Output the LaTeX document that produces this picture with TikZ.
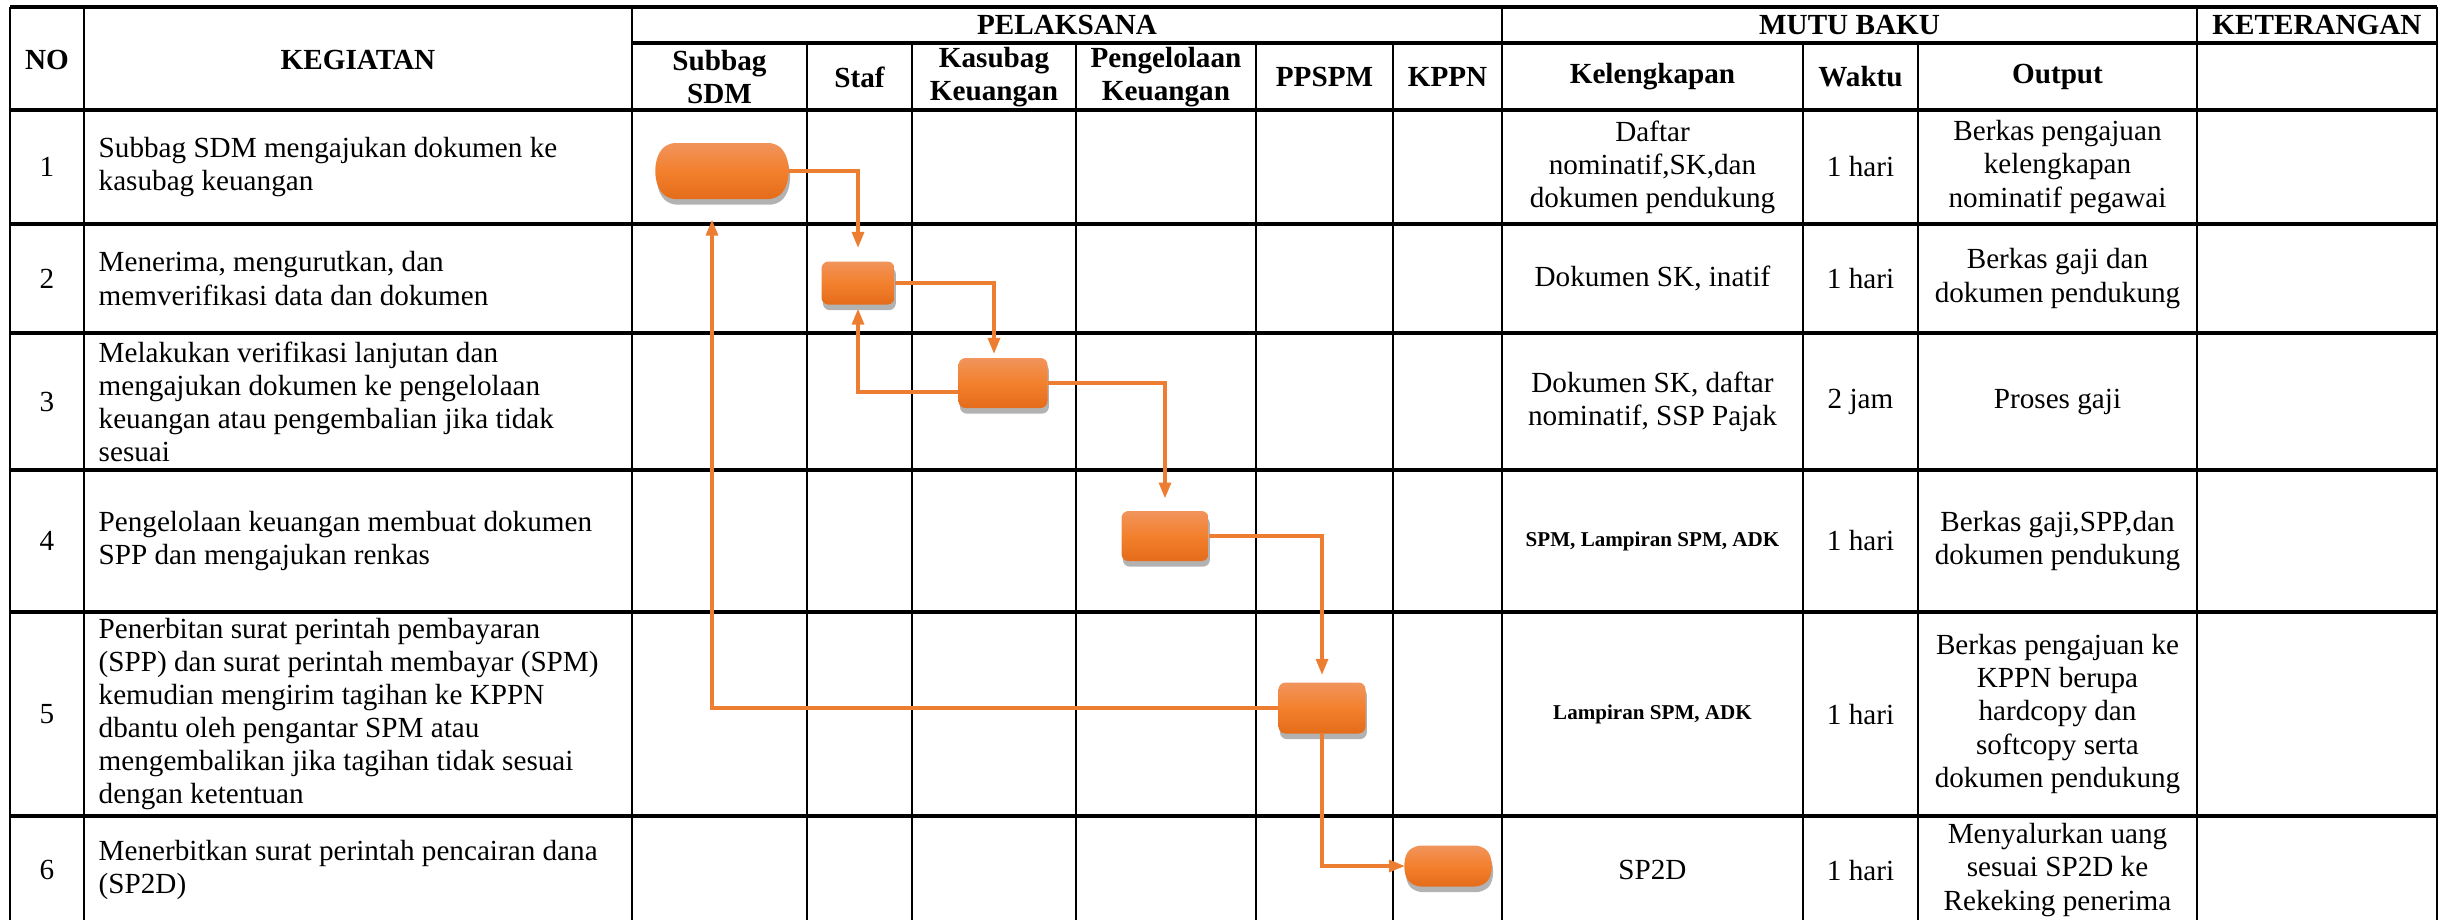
\documentclass[tikz,border=0pt]{standalone}
\usepackage{fontspec}
\setmainfont{Liberation Serif}
\usetikzlibrary{arrows.meta,shadows,shapes.misc}

\definecolor{orline}{RGB}{237,125,49}
\definecolor{ortop}{RGB}{241,148,92}
\definecolor{ormid}{RGB}{243,128,45}
\definecolor{orbot}{RGB}{228,108,26}

\tikzset{
  gridh/.style={line width=1.1pt},
  gridv/.style={line width=0.75pt},
  head/.style={font=\fontsize{8.3}{9.4}\selectfont\bfseries, align=center},
  cell/.style={font=\fontsize{8.3}{9.4}\selectfont, align=center},
  task/.style={font=\fontsize{8.3}{9.4}\selectfont, align=left, anchor=west, inner sep=0pt},
  tiny/.style={font=\fontsize{6}{7}\selectfont\bfseries, align=center},
  proc/.style={rounded corners=0.07cm, top color=ortop, bottom color=orbot, middle color=ormid,
    drop shadow={shadow xshift=0.4pt, shadow yshift=-1.6pt, fill=black, opacity=0.3},
    inner sep=0pt},
  term/.style={proc, rounded rectangle, rounded rectangle arc length=90},
  flow/.style={orline, line width=0.9pt, -{Triangle[length=4.5pt,width=3.4pt]}}
}

\begin{document}
\begin{tikzpicture}
  \useasboundingbox (0,0) rectangle (24.51,-9.20);

  % table lines
  \foreach \y in {0.07,1.10,2.24,3.33,4.70,6.12,8.16}
    \draw[gridh] (0.10,-\y) -- (24.37,-\y);
  \draw[gridh] (6.32,-0.43) -- (24.37,-0.43);
  \foreach \x in {0.10,0.84,6.32,15.02,21.97,24.37}
    \draw[gridv] (\x,-0.07) -- (\x,-9.20);
  \foreach \x in {8.07,9.12,10.76,12.56,13.93,18.03,19.18}
    \draw[gridv] (\x,-0.43) -- (\x,-9.20);

  % header
  \node[head] (hno) at (0.47,-0.60) {NO};
  \node[head] (hkeg) at (3.58,-0.60) {KEGIATAN};
  \node[head] (hpel) at (10.67,-0.25) {PELAKSANA};
  \node[head] (hmutu) at (18.495,-0.25) {MUTU BAKU};
  \node[head] (hket) at (23.17,-0.25) {KETERANGAN};
  \node[head] (hsdm) at (7.195,-0.77) {Subbag\\SDM};
  \node[head] (hstaf) at (8.595,-0.77) {Staf};
  \node[head] (hkasubag) at (9.94,-0.77) {Kasubag\\Keuangan};
  \node[head] (hpengelola) at (11.66,-0.77) {Pengelolaan\\Keuangan};
  \node[head] (hppspm) at (13.245,-0.77) {PPSPM};
  \node[head] (hkppn) at (14.475,-0.77) {KPPN};
  \node[head] (hlengkap) at (16.525,-0.77) {Kelengkapan};
  \node[head] (hwaktu) at (18.605,-0.77) {Waktu};
  \node[head] (houtput) at (20.575,-0.77) {Output};

  % nomor
  \node[cell] (no1) at (0.47,-1.67) {1};
  \node[cell] (no2) at (0.47,-2.785) {2};
  \node[cell] (no3) at (0.47,-4.015) {3};
  \node[cell] (no4) at (0.47,-5.41) {4};
  \node[cell] (no5) at (0.47,-7.14) {5};
  \node[cell] (no6) at (0.47,-8.70) {6};

  % kegiatan
  \node[task] (keg1) at (0.98,-1.67) {Subbag SDM mengajukan dokumen ke\\kasubag keuangan};
  \node[task] (keg2) at (0.98,-2.785) {Menerima, mengurutkan, dan\\memverifikasi data dan dokumen};
  \node[task] (keg3) at (0.98,-4.015) {Melakukan verifikasi lanjutan dan\\mengajukan dokumen ke pengelolaan\\keuangan atau pengembalian jika tidak\\sesuai};
  \node[task] (keg4) at (0.98,-5.41) {Pengelolaan keuangan membuat dokumen\\SPP dan mengajukan renkas};
  \node[task] (keg5) at (0.98,-7.14) {Penerbitan surat perintah pembayaran\\(SPP) dan surat perintah membayar (SPM)\\kemudian mengirim tagihan ke KPPN\\dbantu oleh pengantar SPM atau\\mengembalikan jika tagihan tidak sesuai\\dengan ketentuan};
  \node[task] (keg6) at (0.98,-8.70) {Menerbitkan surat perintah pencairan dana\\(SP2D)};

  % mutu baku
  \node[cell] (lk1) at (16.525,-1.67) {Daftar\\nominatif,SK,dan\\dokumen pendukung};
  \node[cell] (wk1) at (18.605,-1.67) {1 hari};
  \node[cell] (out1) at (20.575,-1.67) {Berkas pengajuan\\kelengkapan\\nominatif pegawai};
  \node[cell] (lk2) at (16.525,-2.785) {Dokumen SK, inatif};
  \node[cell] (wk2) at (18.605,-2.785) {1 hari};
  \node[cell] (out2) at (20.575,-2.785) {Berkas gaji dan\\dokumen pendukung};
  \node[cell] (lk3) at (16.525,-4.015) {Dokumen SK, daftar\\nominatif, SSP Pajak};
  \node[cell] (wk3) at (18.605,-4.015) {2 jam};
  \node[cell] (out3) at (20.575,-4.015) {Proses gaji};
  \node[tiny] (lk4) at (16.525,-5.41) {SPM, Lampiran SPM, ADK};
  \node[cell] (wk4) at (18.605,-5.41) {1 hari};
  \node[cell] (out4) at (20.575,-5.41) {Berkas gaji,SPP,dan\\dokumen pendukung};
  \node[tiny] (lk5) at (16.525,-7.14) {Lampiran SPM, ADK};
  \node[cell] (wk5) at (18.605,-7.14) {1 hari};
  \node[cell] (out5) at (20.575,-7.14) {Berkas pengajuan ke\\KPPN berupa\\hardcopy dan\\softcopy serta\\dokumen pendukung};
  \node[cell] (lk6) at (16.525,-8.70) {SP2D};
  \node[cell] (wk6) at (18.605,-8.70) {1 hari};
  \node[cell] (out6) at (20.575,-8.70) {Menyalurkan uang\\sesuai SP2D ke\\Rekeking penerima};

  % alur
  \node[term, minimum width=1.31cm, minimum height=0.56cm] (s1) at (7.22,-1.71) {};
  \node[proc, minimum width=0.73cm, minimum height=0.43cm] (s2) at (8.58,-2.83) {};
  \node[proc, minimum width=0.89cm, minimum height=0.50cm] (s3) at (10.03,-3.83) {};
  \node[proc, minimum width=0.87cm, minimum height=0.50cm] (s4) at (11.65,-5.36) {};
  \node[proc, minimum width=0.87cm, minimum height=0.51cm] (s5) at (13.22,-7.08) {};
  \node[term, minimum width=0.85cm, minimum height=0.41cm] (s6) at (14.48,-8.66) {};

  \draw[flow, shorten >=3.7pt] (s1.east) -| (s2.north);
  \draw[flow, shorten >=1pt] (s2.east) -| ([xshift=-0.09cm]s3.north);
  \draw[flow, shorten >=1pt] ([yshift=-0.09cm]s3.west) -| (s2.south);
  \draw[flow, shorten >=3.4pt] (s3.east) -| (s4.north);
  \draw[flow, shorten >=2pt] (s4.east) -| (s5.north);
  \draw[flow, shorten >=5.7pt] (s5.west) -| ([xshift=-0.1cm]s1.south);
  \draw[flow] (s5.south) |- (s6.west);
\end{tikzpicture}
\end{document}
